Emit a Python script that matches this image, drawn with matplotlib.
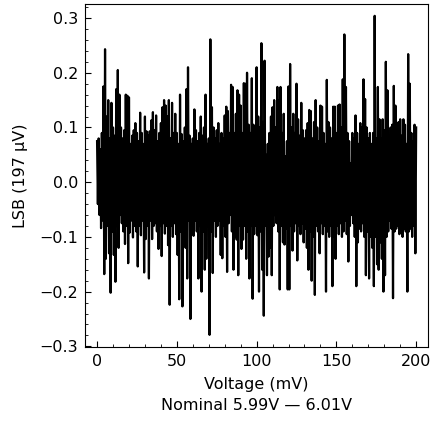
import numpy as np
import matplotlib
matplotlib.use("Agg")
import matplotlib.pyplot as plt
from matplotlib.ticker import MultipleLocator

# upper spikes, one per mV (0 .. 200)
peaks = [
    0.075, 0.08, 0.06, 0.09, 0.175, 0.243, 0.12, 0.15, 0.08, 0.145,
    0.10, 0.085, 0.17, 0.205, 0.16, 0.10, 0.08, 0.095, 0.16, 0.158,
    0.155, 0.07, 0.085, 0.095, 0.108, 0.09, 0.075, 0.127, 0.09, 0.07,
    0.12, 0.093, 0.085, 0.093, 0.113, 0.128, 0.095, 0.122, 0.075, 0.09,
    0.108, 0.137, 0.15, 0.14, 0.12, 0.15, 0.08, 0.145, 0.09, 0.125,
    0.09, 0.07, 0.16, 0.088, 0.075, 0.10, 0.17, 0.21, 0.085, 0.07,
    0.08, 0.133, 0.095, 0.075, 0.09, 0.12, 0.085, 0.10, 0.16, 0.07,
    0.08, 0.261, 0.137, 0.10, 0.08, 0.095, 0.108, 0.07, 0.09, 0.08,
    0.122, 0.138, 0.13, 0.09, 0.178, 0.174, 0.09, 0.125, 0.168, 0.16,
    0.14, 0.09, 0.181, 0.18, 0.20, 0.105, 0.09, 0.19, 0.105, 0.08,
    0.21, 0.12, 0.10, 0.254, 0.11, 0.222, 0.05, 0.07, 0.09, 0.12,
    0.137, 0.15, 0.10, 0.174, 0.15, 0.174, 0.09, 0.125, 0.047, 0.075,
    0.175, 0.216, 0.10, 0.125, 0.09, 0.18, 0.115, 0.085, 0.145, 0.095,
    0.08, 0.095, 0.108, 0.132, 0.13, 0.08, 0.11, 0.15, 0.10, 0.075,
    0.14, 0.138, 0.09, 0.07, 0.187, 0.11, 0.10, 0.08, 0.138, 0.138,
    0.09, 0.14, 0.142, 0.10, 0.188, 0.27, 0.174, 0.09, 0.075, 0.035,
    0.09, 0.08, 0.122, 0.09, 0.07, 0.108, 0.10, 0.188, 0.152, 0.10,
    0.08, 0.09, 0.07, 0.09, 0.304, 0.08, 0.174, 0.115, 0.08, 0.115,
    0.095, 0.22, 0.168, 0.085, 0.10, 0.105, 0.176, 0.14, 0.08, 0.11,
    0.115, 0.085, 0.115, 0.105, 0.07, 0.234, 0.18, 0.09, 0.075, 0.105,
    0.10,
]

# lower spikes, one per mV (0.5 .. 199.5)
troughs = [
    -0.04, -0.06, -0.084, -0.07, -0.168, -0.14, -0.08, -0.13, -0.202, -0.09,
    -0.133, -0.182, -0.08, -0.12, -0.06, -0.075, -0.09, -0.113, -0.08, -0.148,
    -0.092, -0.07, -0.101, -0.08, -0.09, -0.154, -0.08, -0.097, -0.07, -0.165,
    -0.104, -0.08, -0.176, -0.07, -0.104, -0.08, -0.075, -0.09, -0.122, -0.08,
    -0.135, -0.075, -0.094, -0.08, -0.115, -0.224, -0.08, -0.10, -0.075, -0.095,
    -0.133, -0.214, -0.09, -0.227, -0.08, -0.12, -0.176, -0.07, -0.25, -0.085,
    -0.098, -0.07, -0.09, -0.176, -0.08, -0.20, -0.09, -0.16, -0.14, -0.08,
    -0.279, -0.09, -0.166, -0.07, -0.10, -0.08, -0.07, -0.133, -0.139, -0.08,
    -0.10, -0.164, -0.075, -0.06, -0.09, -0.16, -0.10, -0.105, -0.17, -0.08,
    -0.122, -0.105, -0.08, -0.14, -0.09, -0.176, -0.08, -0.213, -0.095, -0.08,
    -0.097, -0.20, -0.09, -0.16, -0.244, -0.08, -0.17, -0.136, -0.12, -0.17,
    -0.08, -0.06, -0.075, -0.09, -0.196, -0.08, -0.11, -0.114, -0.085, -0.196,
    -0.196, -0.08, -0.125, -0.09, -0.075, -0.143, -0.08, -0.095, -0.075, -0.11,
    -0.085, -0.12, -0.16, -0.09, -0.18, -0.10, -0.206, -0.08, -0.09, -0.13,
    -0.075, -0.095, -0.08, -0.20, -0.09, -0.10, -0.08, -0.19, -0.10, -0.14,
    -0.08, -0.095, -0.075, -0.10, -0.09, -0.07, -0.095, -0.145, -0.08, -0.06,
    -0.075, -0.10, -0.19, -0.11, -0.085, -0.09, -0.075, -0.10, -0.17, -0.09,
    -0.176, -0.10, -0.12, -0.19, -0.10, -0.15, -0.16, -0.11, -0.14, -0.20,
    -0.17, -0.10, -0.09, -0.07, -0.085, -0.212, -0.09, -0.085, -0.08, -0.095,
    -0.085, -0.10, -0.085, -0.09, -0.20, -0.09, -0.085, -0.10, -0.08, -0.13,
]

# interleave upper and lower readings along the voltage sweep
lsb = np.empty(len(peaks) + len(troughs))
lsb[0::2] = peaks
lsb[1::2] = troughs
voltage = np.linspace(0, 200, len(lsb))

plt.rcParams['font.family'] = 'DejaVu Sans'
fig = plt.figure(figsize=(4.32, 4.21), dpi=100)
ax = fig.add_axes([0.197, 0.176, 0.794, 0.815])

ax.plot(voltage, lsb, color='black', linewidth=1.6)

ax.set_xlim(-7.5, 207.5)
ax.set_ylim(-0.301, 0.326)
ax.xaxis.set_major_locator(MultipleLocator(50))
ax.xaxis.set_minor_locator(MultipleLocator(10))
ax.yaxis.set_major_locator(MultipleLocator(0.1))
ax.yaxis.set_minor_locator(MultipleLocator(0.02))
ax.tick_params(which='both', direction='in', labelsize=11.5, pad=5)
ax.tick_params(which='major', length=4.5)
ax.tick_params(which='minor', length=2.5)

ax.set_xlabel('Voltage (mV)\nNominal 5.99V \u2014 6.01V', fontsize=11.5,
              labelpad=6, linespacing=1.5)
ax.set_ylabel('LSB (197 \u00b5V)', fontsize=11.5, labelpad=8)

fig.savefig('out.png', dpi=100)
